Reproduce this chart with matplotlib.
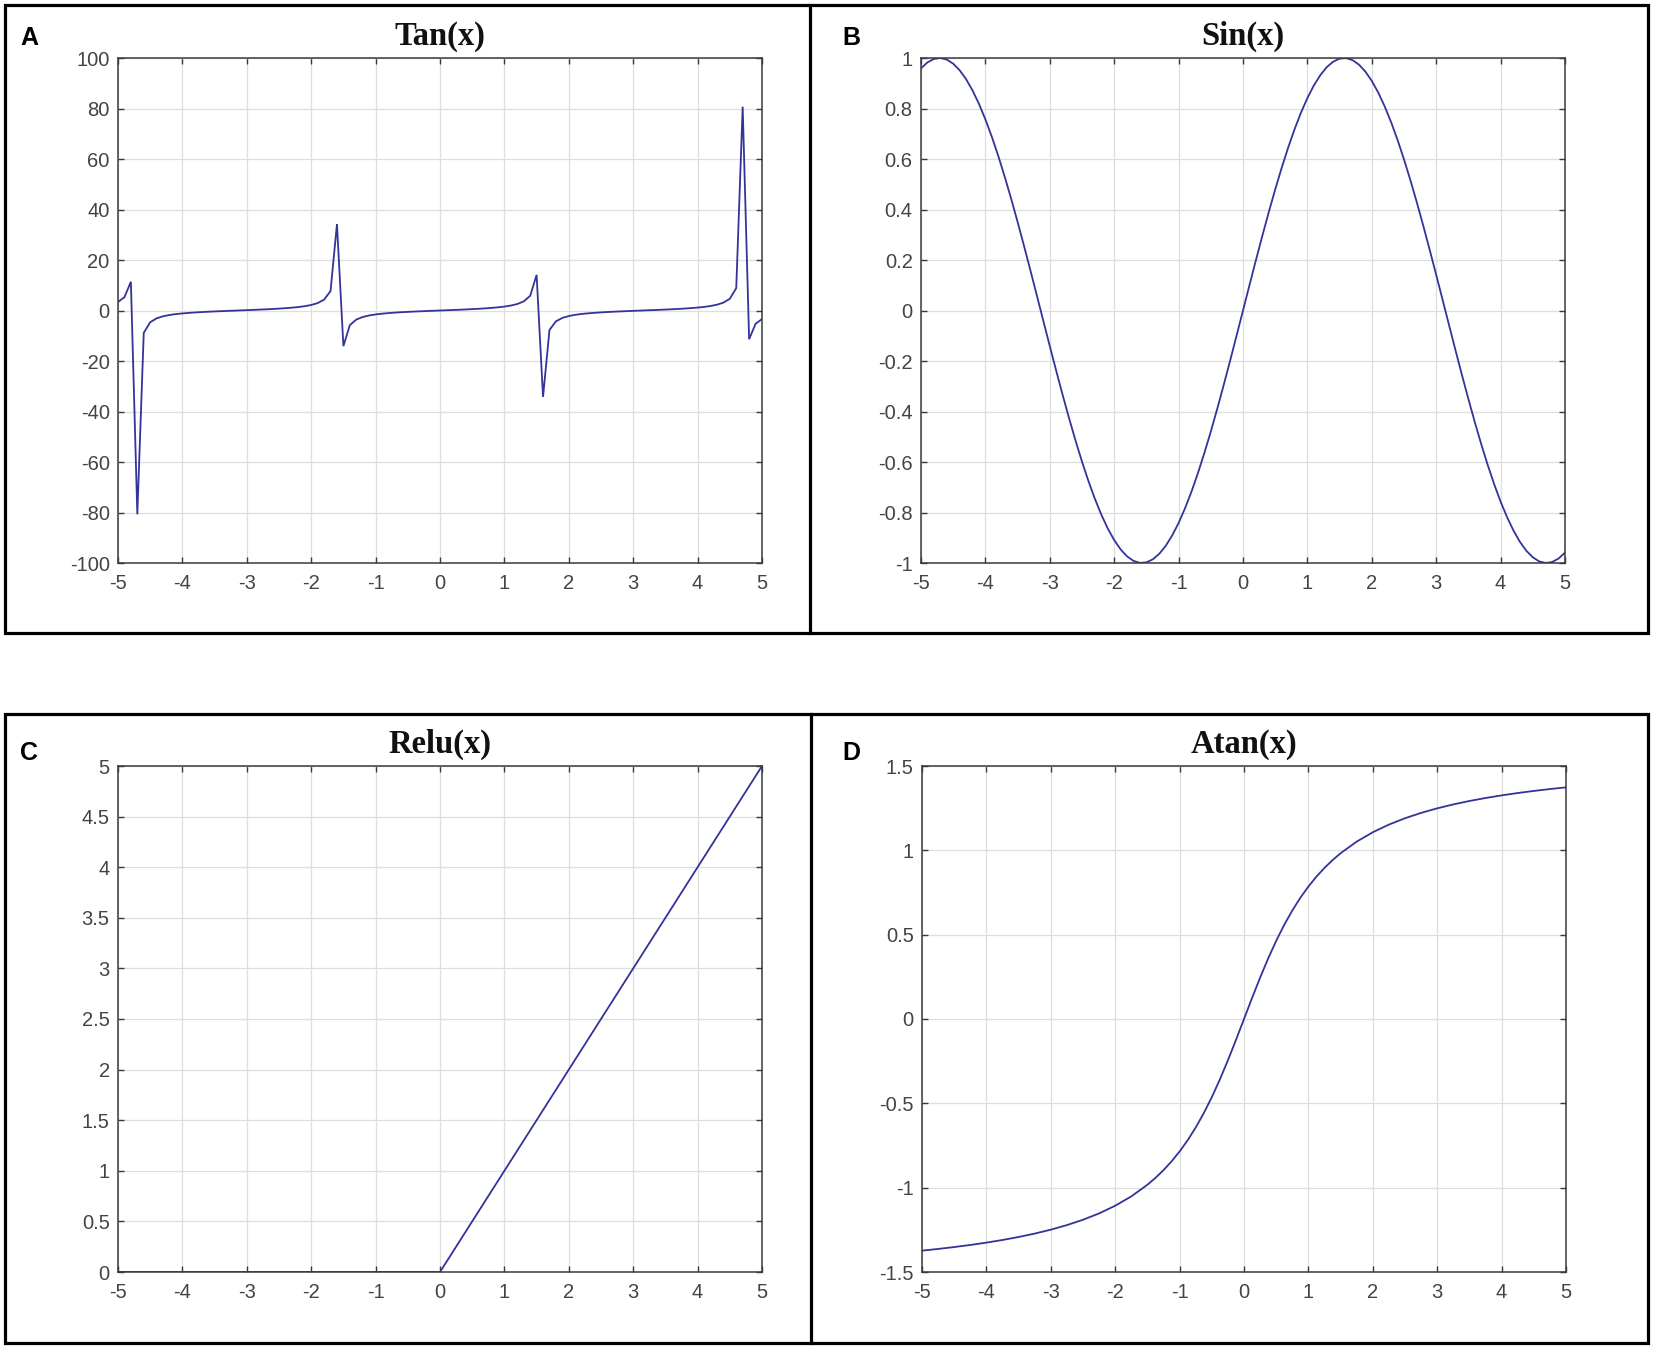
import matplotlib
matplotlib.use('Agg')
import matplotlib.pyplot as plt
from matplotlib.patches import Rectangle
from matplotlib.lines import Line2D

# ---------------- data ----------------
x_fine = [-5.0, -4.9, -4.8, -4.7, -4.6, -4.5, -4.4, -4.3, -4.2, -4.1,
          -4.0, -3.9, -3.8, -3.7, -3.6, -3.5, -3.4, -3.3, -3.2, -3.1,
          -3.0, -2.9, -2.8, -2.7, -2.6, -2.5, -2.4, -2.3, -2.2, -2.1,
          -2.0, -1.9, -1.8, -1.7, -1.6, -1.5, -1.4, -1.3, -1.2, -1.1,
          -1.0, -0.9, -0.8, -0.7, -0.6, -0.5, -0.4, -0.3, -0.2, -0.1,
          0.0, 0.1, 0.2, 0.3, 0.4, 0.5, 0.6, 0.7, 0.8, 0.9,
          1.0, 1.1, 1.2, 1.3, 1.4, 1.5, 1.6, 1.7, 1.8, 1.9,
          2.0, 2.1, 2.2, 2.3, 2.4, 2.5, 2.6, 2.7, 2.8, 2.9,
          3.0, 3.1, 3.2, 3.3, 3.4, 3.5, 3.6, 3.7, 3.8, 3.9,
          4.0, 4.1, 4.2, 4.3, 4.4, 4.5, 4.6, 4.7, 4.8, 4.9, 5.0]

tan_y = [3.38, 5.27, 11.38, -80.71, -8.86, -4.64, -3.10, -2.29, -1.78, -1.42,
         -1.16, -0.95, -0.77, -0.62, -0.49, -0.37, -0.26, -0.16, -0.06, 0.04,
         0.14, 0.25, 0.36, 0.47, 0.60, 0.75, 0.92, 1.12, 1.37, 1.71,
         2.19, 2.93, 4.29, 7.70, 34.23, -14.10, -5.80, -3.60, -2.57, -1.96,
         -1.56, -1.26, -1.03, -0.84, -0.68, -0.55, -0.42, -0.31, -0.20, -0.10,
         0.00, 0.10, 0.20, 0.31, 0.42, 0.55, 0.68, 0.84, 1.03, 1.26,
         1.56, 1.96, 2.57, 3.60, 5.80, 14.10, -34.23, -7.70, -4.29, -2.93,
         -2.19, -1.71, -1.37, -1.12, -0.92, -0.75, -0.60, -0.47, -0.36, -0.25,
         -0.14, -0.04, 0.06, 0.16, 0.26, 0.37, 0.49, 0.62, 0.77, 0.95,
         1.16, 1.42, 1.78, 2.29, 3.10, 4.64, 8.86, 80.71, -11.38, -5.27, -3.38]

sin_y = [0.9589, 0.9825, 0.9962, 0.9999, 0.9937, 0.9775, 0.9516, 0.9162, 0.8716, 0.8183,
         0.7568, 0.6878, 0.6119, 0.5298, 0.4425, 0.3508, 0.2555, 0.1577, 0.0584, -0.0416,
         -0.1411, -0.2392, -0.3350, -0.4274, -0.5155, -0.5985, -0.6755, -0.7457, -0.8085, -0.8632,
         -0.9093, -0.9463, -0.9738, -0.9917, -0.9996, -0.9975, -0.9854, -0.9636, -0.9320, -0.8912,
         -0.8415, -0.7833, -0.7174, -0.6442, -0.5646, -0.4794, -0.3894, -0.2955, -0.1987, -0.0998,
         0.0, 0.0998, 0.1987, 0.2955, 0.3894, 0.4794, 0.5646, 0.6442, 0.7174, 0.7833,
         0.8415, 0.8912, 0.9320, 0.9636, 0.9854, 0.9975, 0.9996, 0.9917, 0.9738, 0.9463,
         0.9093, 0.8632, 0.8085, 0.7457, 0.6755, 0.5985, 0.5155, 0.4274, 0.3350, 0.2392,
         0.1411, 0.0416, -0.0584, -0.1577, -0.2555, -0.3508, -0.4425, -0.5298, -0.6119, -0.6878,
         -0.7568, -0.8183, -0.8716, -0.9162, -0.9516, -0.9775, -0.9937, -0.9999, -0.9962, -0.9825, -0.9589]

relu_x = [-5.0, 0.0, 5.0]
relu_y = [0.0, 0.0, 5.0]

atan_x = [-5.0, -4.75, -4.5, -4.25, -4.0, -3.75, -3.5, -3.25, -3.0, -2.75,
          -2.5, -2.25, -2.0, -1.75, -1.5, -1.375, -1.25, -1.125, -1.0, -0.875,
          -0.75, -0.625, -0.5, -0.375, -0.25, -0.125,
          0.0, 0.125, 0.25, 0.375, 0.5, 0.625, 0.75, 0.875, 1.0, 1.125,
          1.25, 1.375, 1.5, 1.75, 2.0, 2.25,
          2.5, 2.75, 3.0, 3.25, 3.5, 3.75, 4.0, 4.25, 4.5, 4.75, 5.0]
atan_y = [-1.3734, -1.3633, -1.3521, -1.3397, -1.3258, -1.3102, -1.2925, -1.2723, -1.2490, -1.2220,
          -1.1903, -1.1526, -1.1071, -1.0517, -0.9828, -0.9420, -0.8961, -0.8442, -0.7854, -0.7188,
          -0.6435, -0.5586, -0.4636, -0.3588, -0.2450, -0.1244,
          0.0, 0.1244, 0.2450, 0.3588, 0.4636, 0.5586, 0.6435, 0.7188, 0.7854, 0.8442,
          0.8961, 0.9420, 0.9828, 1.0517, 1.1071, 1.1526,
          1.1903, 1.2220, 1.2490, 1.2723, 1.2925, 1.3102, 1.3258, 1.3397, 1.3521, 1.3633, 1.3734]

x_ticks = [-5, -4, -3, -2, -1, 0, 1, 2, 3, 4, 5]
x_ticklabels = ['-5', '-4', '-3', '-2', '-1', '0', '1', '2', '3', '4', '5']

tan_yticks = [-100, -80, -60, -40, -20, 0, 20, 40, 60, 80, 100]
tan_yticklabels = ['-100', '-80', '-60', '-40', '-20', '0', '20', '40', '60', '80', '100']
sin_yticks = [-1, -0.8, -0.6, -0.4, -0.2, 0, 0.2, 0.4, 0.6, 0.8, 1]
sin_yticklabels = ['-1', '-0.8', '-0.6', '-0.4', '-0.2', '0', '0.2', '0.4', '0.6', '0.8', '1']
relu_yticks = [0, 0.5, 1, 1.5, 2, 2.5, 3, 3.5, 4, 4.5, 5]
relu_yticklabels = ['0', '0.5', '1', '1.5', '2', '2.5', '3', '3.5', '4', '4.5', '5']
atan_yticks = [-1.5, -1, -0.5, 0, 0.5, 1, 1.5]
atan_yticklabels = ['-1.5', '-1', '-0.5', '0', '0.5', '1', '1.5']

titles = ['Tan(x)', 'Sin(x)', 'Relu(x)', 'Atan(x)']
panel_letters = ['A', 'B', 'C', 'D']

# ---------------- figure ----------------
plt.rcParams['axes.unicode_minus'] = False
W, H = 1654, 1361
fig = plt.figure(figsize=(W / 100, H / 100), dpi=100)
fig.patch.set_facecolor('white')

LINE = '#33339a'
SPINE = '#3a3a3a'
TXT = '#444444'


def fx(px):
    return px / W


def fy(py):
    return 1 - py / H


def make_ax(l, t, r, b):
    return fig.add_axes([fx(l), fy(b), (r - l) / W, (b - t) / H])


boxes = [(118, 58, 762, 563), (921, 58, 1565, 563),
         (118, 766, 762, 1272), (922, 766, 1566, 1272)]
series = [(x_fine, tan_y), (x_fine, sin_y), (relu_x, relu_y), (atan_x, atan_y)]
yt = [(tan_yticks, tan_yticklabels, (-100, 100)),
      (sin_yticks, sin_yticklabels, (-1, 1)),
      (relu_yticks, relu_yticklabels, (0, 5)),
      (atan_yticks, atan_yticklabels, (-1.5, 1.5))]
letter_pos = [(20, 38), (842, 38), (20, 753), (842, 753)]

for i in range(4):
    l, t, r, b = boxes[i]
    ax = make_ax(l, t, r, b)
    xs, ys = series[i]
    ax.plot(xs, ys, color=LINE, lw=1.3, solid_joinstyle='miter')
    ax.set_xlim(-5, 5)
    ticks, labels, lim = yt[i]
    ax.set_ylim(*lim)
    ax.set_xticks(x_ticks)
    ax.set_xticklabels(x_ticklabels)
    ax.set_yticks(ticks)
    ax.set_yticklabels(labels)
    ax.grid(True, color='#dedede', lw=0.9)
    ax.set_axisbelow(True)
    for s in ax.spines.values():
        s.set_color(SPINE)
        s.set_linewidth(1.1)
    ax.tick_params(direction='in', length=4.5, width=1.0, color=SPINE,
                   top=True, right=True, labelsize=14.5, labelcolor=TXT)
    ax.tick_params(axis='x', pad=8)
    ax.tick_params(axis='y', pad=6)
    for lab in ax.get_xticklabels() + ax.get_yticklabels():
        lab.set_family('Liberation Sans')
    # title
    fig.text(fx((l + r) / 2), fy(t - 22), titles[i], ha='center', va='center',
             family='Liberation Serif', fontweight='bold', fontsize=23.5, color='#111111')
    lx, ly = letter_pos[i]
    fig.text(fx(lx), fy(ly), panel_letters[i], ha='left', va='center',
             family='Liberation Sans', fontweight='bold', fontsize=18, color='black')

# frames around panels
for (x0, y0, x1, y1, xd) in [(5, 5, 1648, 633, 810), (5, 714, 1648, 1343, 811)]:
    rect = Rectangle((fx(x0), fy(y1)), (x1 - x0) / W, (y1 - y0) / H,
                     transform=fig.transFigure, fill=False, edgecolor='black', lw=2.3)
    fig.add_artist(rect)
    fig.add_artist(Line2D([fx(xd), fx(xd)], [fy(y0), fy(y1)], transform=fig.transFigure,
                          color='black', lw=2.3))

fig.savefig('out.png', dpi=100, facecolor='white')
